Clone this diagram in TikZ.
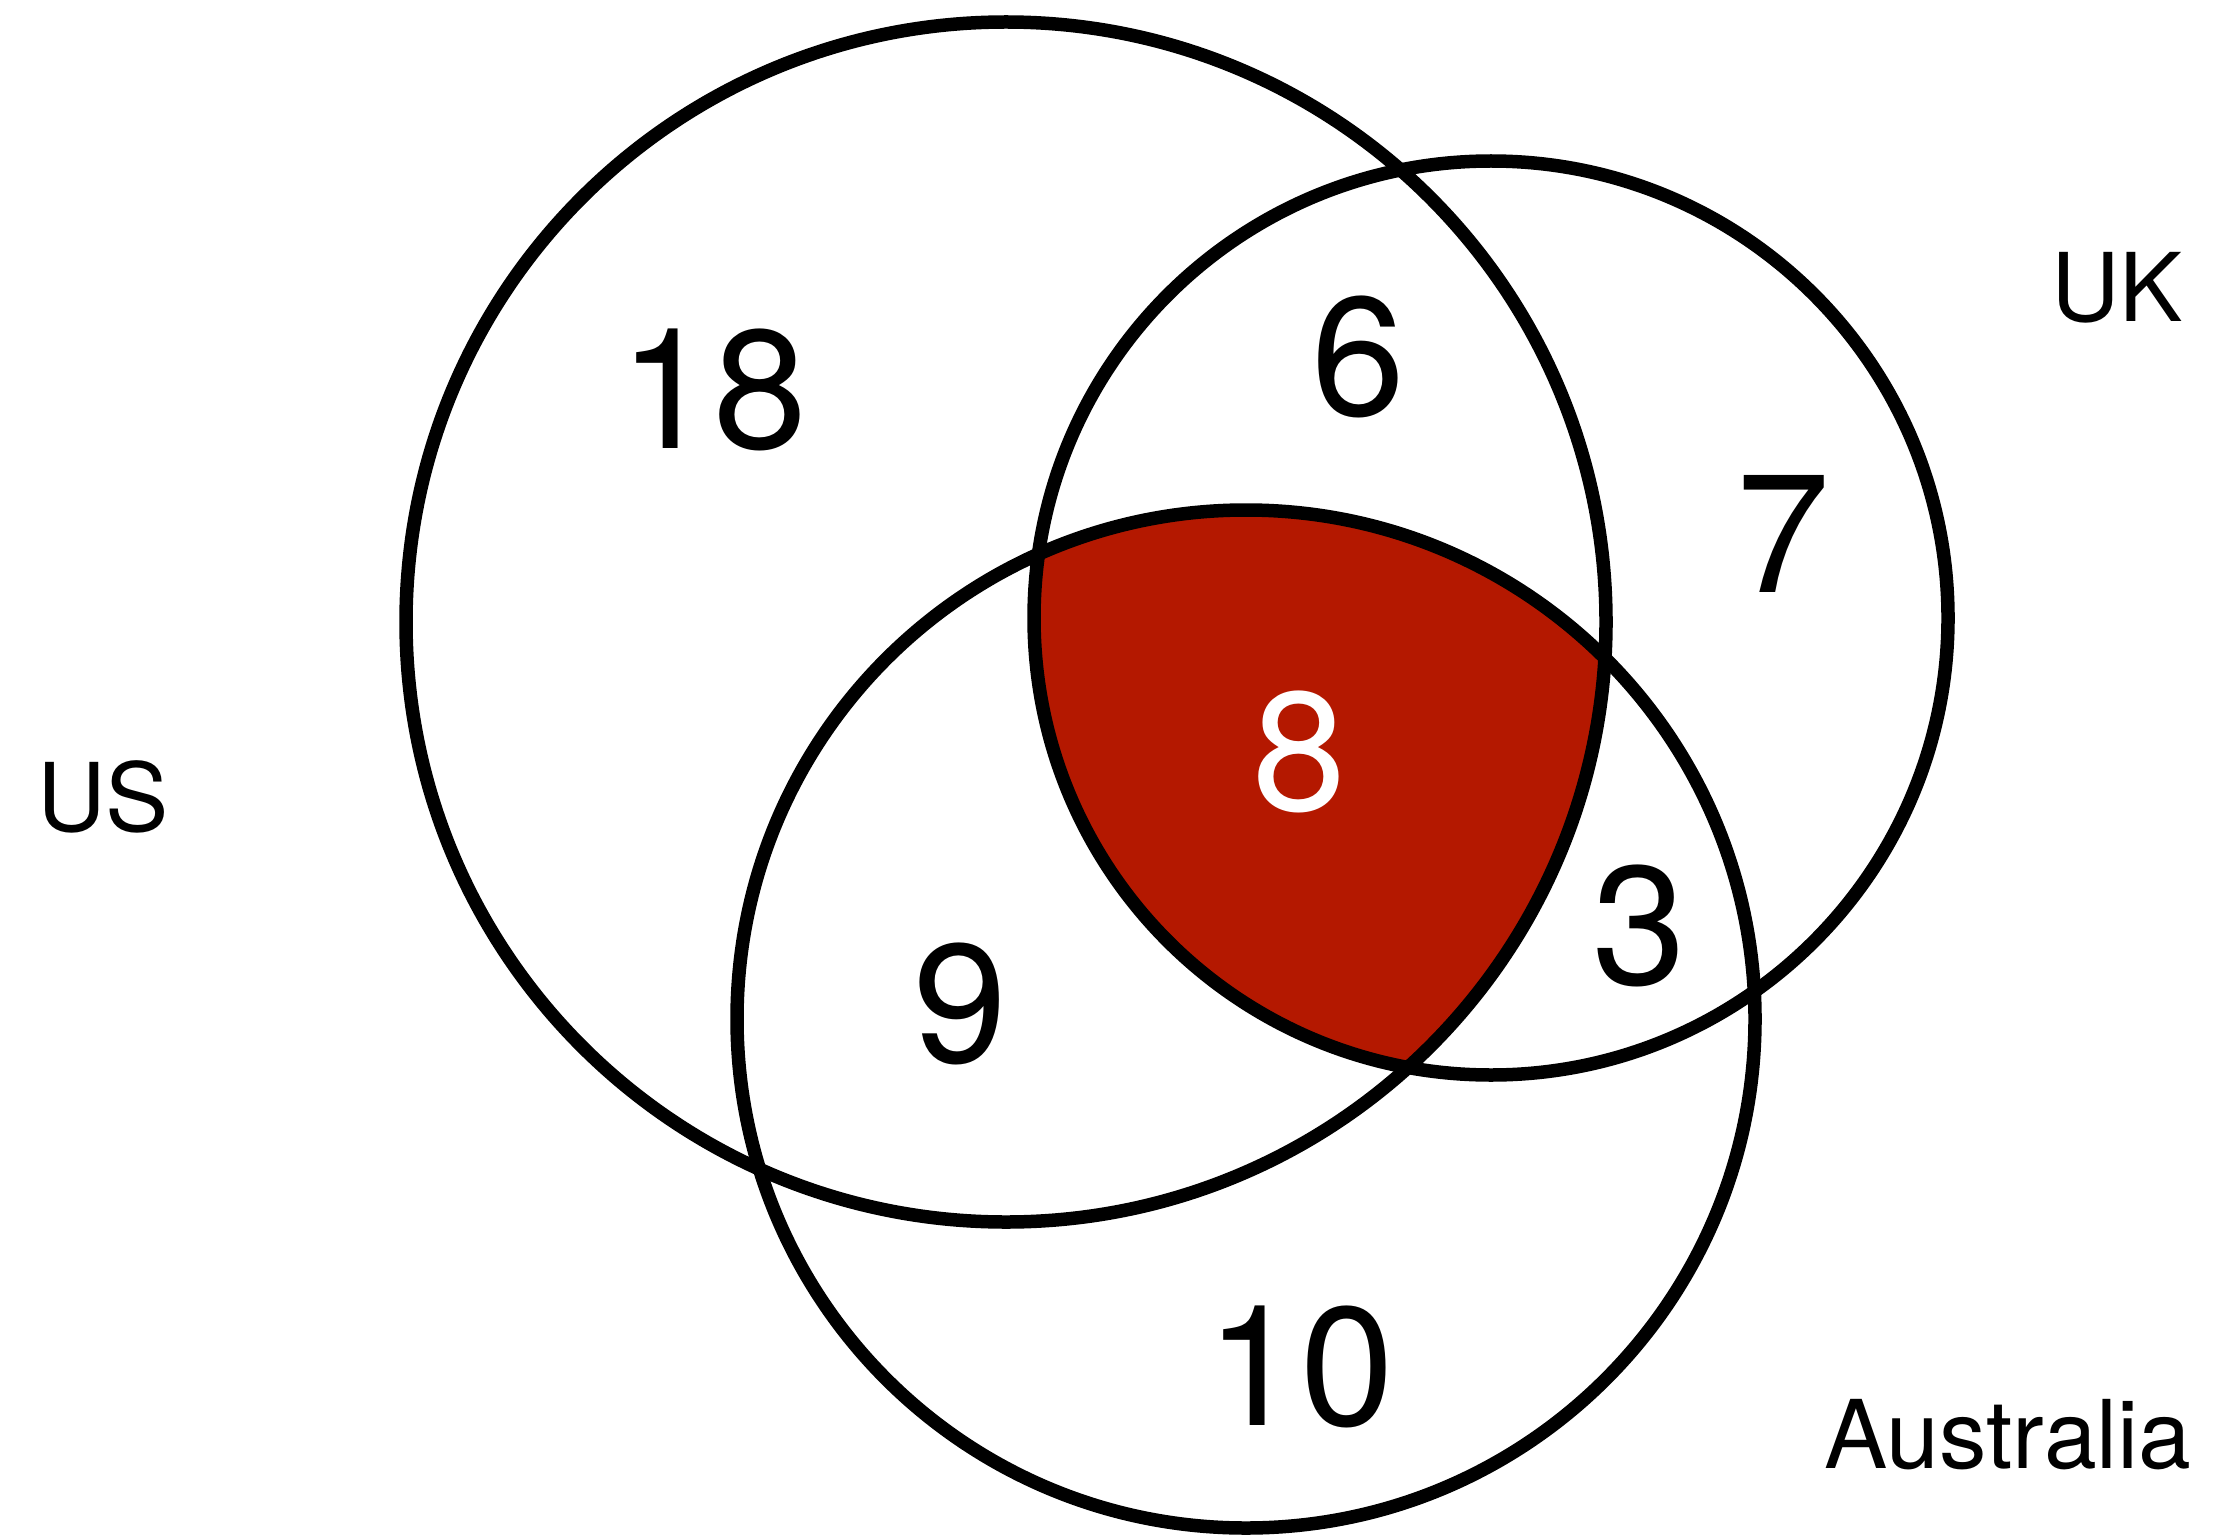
\documentclass[tikz,border=0pt]{standalone}
\usepackage{fontspec}
\setmainfont{TeX Gyre Heros}
\definecolor{setred}{RGB}{180,24,0}

\begin{document}
\begin{tikzpicture}[x=0.1mm,y=0.1mm,
  ring/.style={line width=1.35mm},
  setname/.style={font=\fontsize{27}{32}\selectfont},
  count/.style={font=\fontsize{48}{58}\selectfont}]
\useasboundingbox (0,0) rectangle (2233,1536);
\begin{scope}
\clip (1006,914) circle (600);
\clip (1491,918) circle (457);
\fill[setred] (1246,517) circle (509);
\end{scope}
\draw[ring] (1006,914) circle (600);
\draw[ring] (1491,918) circle (457);
\draw[ring] (1246,517) circle (509);
\node[setname] (us) at (103,739) {US};
\node[setname] (uk) at (2117,1248) {UK};
\node[setname] (au) at (2008,101) {Australia};
\node[count] (nus) at (713,1146) {18};
\node[count] (nusuk) at (1358,1179) {6};
\node[count] (nuk) at (1783,1002) {7};
\node[count,text=white] (nall) at (1299,784) {8};
\node[count] (nukau) at (1639,610) {3};
\node[count] (nusau) at (960,532) {9};
\node[count] (nau) at (1300,169) {10};
\end{tikzpicture}
\end{document}
